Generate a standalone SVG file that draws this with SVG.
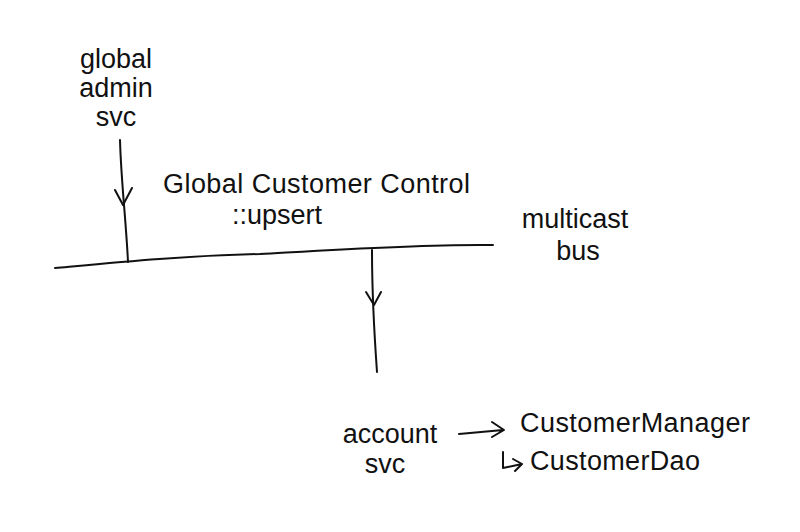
<svg xmlns="http://www.w3.org/2000/svg" width="800" height="532" viewBox="0 0 800 532">
<style>
text{font-family:"Liberation Sans",sans-serif;fill:#111;font-size:27px}
.l{fill:none;stroke:#111;stroke-width:2;stroke-linecap:round;stroke-linejoin:round}
</style>
<rect width="800" height="532" fill="#fff"/>
<g id="connectors">
<path class="l" d="M55,268 C120,262 180,256 260,254 C330,250 420,244 493,245"/>
<path class="l" d="M120,140 C121,180 126,220 128,262"/>
<path class="l" d="M115,190 L123,205 L132,188"/>
<path class="l" d="M372,250 C372,290 374,330 377,372"/>
<path class="l" d="M366,292 L374,305 L381,292"/>
<path class="l" d="M459,434 L503,430 M492,422 L504,430 L492,437"/>
<path class="l" d="M503,452 L503,468 L522,464 M513,459 L522,464 L515,471"/>
</g>
<g id="global-admin-svc">
<text x="116" y="68" text-anchor="middle">global</text>
<text x="116" y="97" text-anchor="middle">admin</text>
<text x="116" y="126" text-anchor="middle">svc</text>
</g>
<g id="message">
<text x="163" y="193" textLength="307">Global Customer Control</text>
<text x="232" y="224">::upsert</text>
</g>
<g id="multicast-bus">
<text x="575" y="228" text-anchor="middle">multicast</text>
<text x="578" y="260" text-anchor="middle">bus</text>
</g>
<g id="account-svc">
<text x="390" y="443" text-anchor="middle">account</text>
<text x="385" y="473" text-anchor="middle">svc</text>
</g>
<g id="customer-manager"><text x="520" y="432" textLength="230">CustomerManager</text></g>
<g id="customer-dao"><text x="530" y="470" textLength="170">CustomerDao</text></g>
</svg>
